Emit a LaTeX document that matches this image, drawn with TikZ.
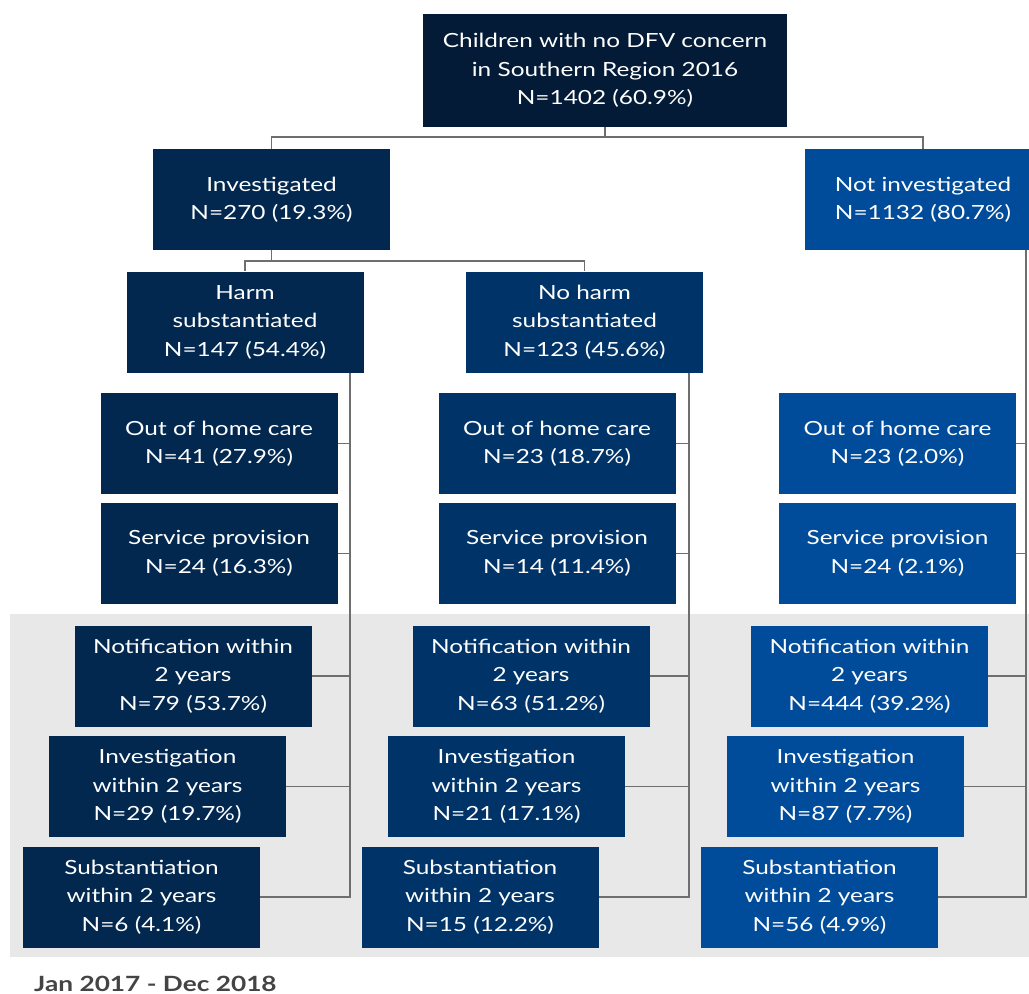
\documentclass[tikz,border=0pt]{standalone}
\usepackage{fontspec}
\setmainfont{Lato}[FakeStretch=1.25]
\begin{document}
\definecolor{rootblue}{HTML}{031B36}
\definecolor{navyA}{HTML}{022850}
\definecolor{navyB}{HTML}{003468}
\definecolor{navyC}{HTML}{004C9A}
\definecolor{band}{HTML}{E8E8E8}
\definecolor{linkgray}{HTML}{6E6E6E}
\definecolor{footgray}{HTML}{444444}
\begin{tikzpicture}[x=1pt,y=-1pt,
  box/.style={rectangle,minimum width=237pt,minimum height=101pt,inner sep=0pt,
    align=center,text=white,font=\fontsize{19.5}{28.5}\selectfont},
  colA/.style={box,fill=navyA},
  colB/.style={box,fill=navyB},
  colC/.style={box,fill=navyC},
  link/.style={draw=linkgray,line width=1.6pt}]
\useasboundingbox (0,0) rectangle (1029,994);
\clip (0,0) rectangle (1029,994);
\fill[white] (0,0) rectangle (1029,994);
% shaded follow-up band
\fill[band] (10,614) rectangle (1040,957);

% root and first split
\node[box,fill=rootblue,minimum width=364pt,minimum height=113pt] (root) at (605,70.5)
  {Children with no DFV concern\\in Southern Region 2016\\N=1402 (60.9\%)};
\node[colA] (inv) at (271.5,199.5) {Investigated\\N=270 (19.3\%)};
\node[colC] (notinv) at (923,199.5) {Not investigated\\N=1132 (80.7\%)};

% outcome of investigation
\node[colA] (harm) at (245,322) {Harm\\substantiated\\N=147 (54.4\%)};
\node[colB] (noharm) at (584.5,322) {No harm\\substantiated\\N=123 (45.6\%)};

% harm substantiated column
\node[colA] (ohcA) at (219,443.5) {Out of home care\\N=41 (27.9\%)};
\node[colA] (spA) at (219,553.5) {Service provision\\N=24 (16.3\%)};
\node[colA] (notA) at (193,676) {Notification within\\2 years\\N=79 (53.7\%)};
\node[colA] (ivA) at (167.5,786.5) {Investigation\\within 2 years\\N=29 (19.7\%)};
\node[colA] (sbA) at (141.5,897) {Substantiation\\within 2 years\\N=6 (4.1\%)};

% no harm substantiated column
\node[colB] (ohcB) at (557,443.5) {Out of home care\\N=23 (18.7\%)};
\node[colB] (spB) at (557,553.5) {Service provision\\N=14 (11.4\%)};
\node[colB] (notB) at (531,676) {Notification within\\2 years\\N=63 (51.2\%)};
\node[colB] (ivB) at (506.5,786.5) {Investigation\\within 2 years\\N=21 (17.1\%)};
\node[colB] (sbB) at (480,897) {Substantiation\\within 2 years\\N=15 (12.2\%)};

% not investigated column
\node[colC] (ohcC) at (897.5,443.5) {Out of home care\\N=23 (2.0\%)};
\node[colC] (spC) at (897.5,553.5) {Service provision\\N=24 (2.1\%)};
\node[colC] (notC) at (869.5,676) {Notification within\\2 years\\N=444 (39.2\%)};
\node[colC] (ivC) at (845.5,786.5) {Investigation\\within 2 years\\N=87 (7.7\%)};
\node[colC] (sbC) at (819.5,897) {Substantiation\\within 2 years\\N=56 (4.9\%)};

% tree connectors
\draw[link] (root.south) -- ++(0,10) -| (inv.north);
\draw[link] (root.south) -- ++(0,10) -| (notinv.north);
\draw[link] (inv.south) -- ++(0,11) -| (harm.north);
\draw[link] (inv.south) -- ++(0,11) -| (noharm.north);

% vertical spines with side ticks
\coordinate (spineA) at (350,0);
\coordinate (spineB) at (689,0);
\coordinate (spineC) at (1026,0);
\draw[link] (harm.south -| spineA) |- (sbA.east);
\draw[link] (noharm.south -| spineB) |- (sbB.east);
\draw[link] (notinv.south -| spineC) |- (sbC.east);
\foreach \n in {ohcA,spA,notA,ivA}{\draw[link] (\n.east) -- (\n.east -| spineA);}
\foreach \n in {ohcB,spB,notB,ivB}{\draw[link] (\n.east) -- (\n.east -| spineB);}
\foreach \n in {ohcC,spC,notC,ivC}{\draw[link] (\n.east) -- (\n.east -| spineC);}

% period note
\node[anchor=base west,inner sep=0pt,text=footgray,font=\fontsize{21}{24}\bfseries] (period) at (34,991) {Jan 2017 - Dec 2018};
\end{tikzpicture}
\end{document}
